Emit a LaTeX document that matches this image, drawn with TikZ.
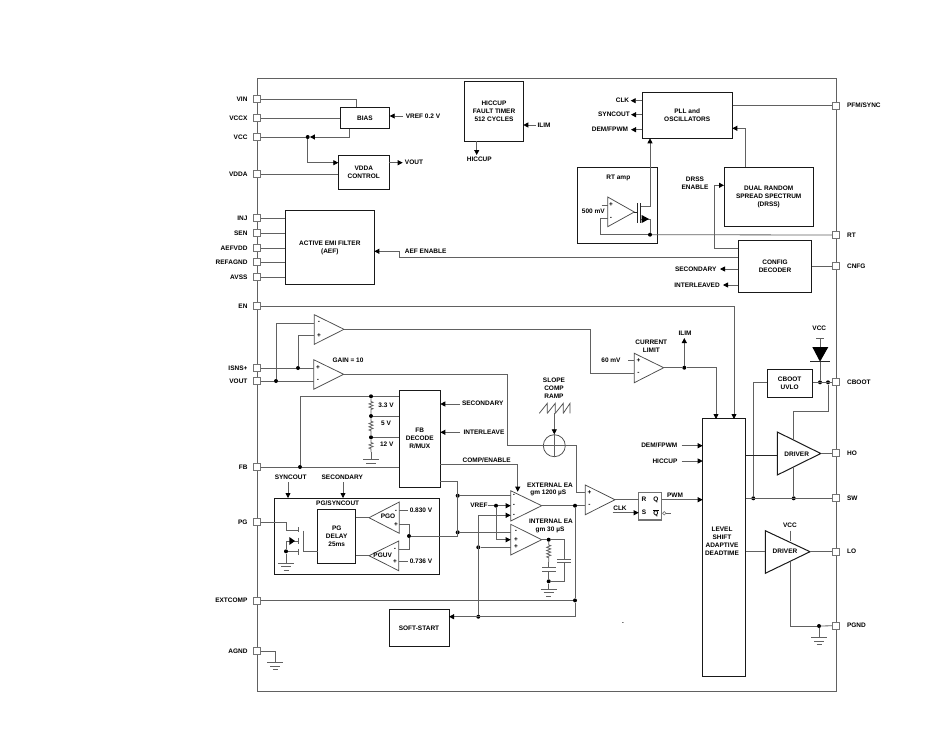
\documentclass[tikz,border=0pt]{standalone}
\usepackage{fontspec}
\setmainfont{Liberation Sans}
\usetikzlibrary{arrows.meta,calc,decorations.pathmorphing,positioning,shapes.geometric}

\tikzset{
  wire/.style={draw=black!62,line width=0.8pt},
  blk/.style={draw=black!85,line width=0.7pt},
  sig/.style={wire,-{Triangle[length=5pt,width=5pt,color=black]}},
  box/.style={draw=black!90,line width=1pt,fill=white,inner sep=0pt,align=center},
  pinbox/.style={draw=black!55,line width=0.7pt,fill=white,minimum size=7pt,inner sep=0pt},
  dot/.style={circle,fill=black,inner sep=0pt,minimum size=4pt},
  lab/.style={inner sep=0pt,align=center},
  res/.style={wire,decorate,decoration={zigzag,amplitude=2pt,segment length=3.2pt,pre length=3pt,post length=3pt}},
  amp/.style={draw=black!70,line width=0.75pt},
  gnd/.pic={\draw[wire] (-8,0) -- (8,0); \draw[wire] (-5,3.7) -- (5,3.7); \draw[wire] (-2.5,7.5) -- (2.5,7.5);}
}

\begin{document}
\begin{tikzpicture}[x=1pt,y=-1pt,every node/.style={font=\fontsize{6.5}{8}\selectfont\bfseries}]
    \useasboundingbox (0,0) rectangle (949,739);
    \fill[white] (0,0) rectangle (949,739);
    % Package outline
    \draw[wire] (257,78) rectangle (836,691);
    % Pins
    \foreach \nm/\py/\txt in {pinVIN/99/VIN,pinVCCX/118/VCCX,pinVCC/137/VCC,pinVDDA/174/VDDA,pinINJ/218/INJ,pinSEN/233/SEN,pinAEFVDD/248/AEFVDD,pinREFAGND/262/REFAGND,pinAVSS/277/AVSS,pinEN/306/EN,pinISNS/368/ISNS+,pinVOUT/381/VOUT,pinFB/467/FB,pinPG/522/PG,pinEXTCOMP/600.4/EXTCOMP,pinAGND/651/AGND}{
        \node[pinbox] (\nm) at (257,\py) {};
        \node[lab,left=5.5pt of \nm] (\nm-lab) {\txt};
    }
    \foreach \nm/\py/\txt in {pinPFM/105.7/{PFM/SYNC},pinRT/235/RT,pinCNFG/266.3/CNFG,pinCBOOT/382.3/CBOOT,pinHO/453.3/HO,pinSW/498.3/SW,pinLO/551.7/LO,pinPGND/625.7/PGND}{
        \node[pinbox] (\nm) at (836,\py) {};
        \node[lab,right=7pt of \nm] (\nm-lab) {\txt};
    }
    % Blocks
    \node[box,minimum width=49.4pt,minimum height=21.4pt] (bias) at (365,118) {BIAS};
    \node[box,minimum width=51pt,minimum height=34pt] (vdda) at (363.8,172) {VDDA\\CONTROL};
    \node[box,minimum width=58.6pt,minimum height=60.3pt] (hiccup) at (494,111.2) {HICCUP\\FAULT TIMER\\512 CYCLES};
    \node[box,minimum width=89pt,minimum height=74.4pt] (aef) at (329.8,247.5) {ACTIVE EMI FILTER\\(AEF)};
    \node[box,minimum width=90.3pt,minimum height=46.3pt] (pll) at (687.2,115.2) {PLL and\\OSCILLATORS};
    \node[box,minimum width=80pt,minimum height=75.6pt] (rtbox) at (617.7,205.5) {};
    \node[box,minimum width=89.3pt,minimum height=59pt] (drss) at (768.7,196.8) {DUAL RANDOM\\SPREAD SPECTRUM\\(DRSS)};
    \node[box,minimum width=73.4pt,minimum height=51.7pt] (config) at (775,266.2) {CONFIG\\DECODER};
    \node[box,minimum width=41pt,minimum height=97pt] (fbdec) at (419.8,438.8) {FB\\DECODE\\R/MUX};
    \node[box,minimum width=165.4pt,minimum height=76.3pt] (pgbox) at (357,536.2) {};
    \node[box,minimum width=38pt,minimum height=53.7pt] (pgdly) at (336.7,536.2) {PG\\DELAY\\25ms};
    \node[box,minimum width=60pt,minimum height=37.4pt] (soft) at (419,628) {SOFT-START};
    \node[box,minimum width=43pt,minimum height=257.7pt] (level) at (724.2,547.8) {};
    \node[box,minimum width=45.3pt,minimum height=27.7pt] (uvlo) at (789.7,383.2) {CBOOT\\UVLO};
    \node[box,draw=black!55,line width=1.2pt,minimum width=23pt,minimum height=27.3pt] (ff) at (650.2,506.3) {};
    \node[lab] (levelLab) at (722,541) {LEVEL\\SHIFT\\ADAPTIVE\\DEADTIME};
    % Junctions
    \foreach \nm/\cx/\cy in {jVcc/307.7/137,jRt/650/234.7,jCur/684.3/367.7,jIsns/298/368,jVout/276/381,jFb/300/467,jR1/371/396.3,jR2/371/416,jR3/371/437.3,jPg/409/536,jFb1/457.7/495.7,jFb2/457.7/532.3,jVref/496/505.7,jSs1/478.3/547.3,jSs2/478.3/616.7,jExt/575/505.7,jComp/575/600.4,jInt/548.7/539.7,jCap/548.7/581.3,jUvlo/753.3/498.3,jDrv/793.7/498.3,jBoot1/820/382.3,jBoot2/828/382.3,jPgnd/819/626,jFet/286/551.3}
        \node[dot] (\nm) at (\cx,\cy) {};
    % Free ends of connectors
    \foreach \nm/\cx/\cy in {vinDrop/356.7/107.3,biasOut/349.3/128.7,vddaIn/338.3/162.7,vddaOut/389.3/162.7,vddaEnd/402.7/162.7,vrefFrom/403/116,vrefIn/389.7/116,hicOut/476.7/141.3,hicEnd/476.7/155,ilimFrom/536/125,ilimIn/523.3/125,cfgAef/738.3/257,aefBend/399/257,aefIn/374.3/251.3,clkOut/642/100.7,clkEnd/630.7/100.7,synOut/642/114.7,synEnd/631/114.7,demOut/642/129.7,demEnd/631/129.7,pllIn/732.3/128.3,drssOut/745/167.3,rtUp/650/138.3,fetD/650/206.7,cfgDrss/738.3/248.3,drssBend/714.3/248.3,drssIn/724/185.3,cfgSec/738.3/269,secEnd/720/269,cfgInt/738.3/285,intEnd/723/285,fbTop/399.3/396.3,r3End/371/459.7,fbSecFrom/460/404,fbSecIn/440.3/404,fbIntFrom/460/432.3,fbIntIn/440.3/432.3,cmpM/314.3/323,cmpP/314.3/335.7,gainP/313.7/368,gainM/313.7/381,cmpBend/590/329.3,curM/634.3/373.3,curP0/628/360.7,curP/634.3/360.7,ilimUp/684.3/338,curBend/716/367.7,curIn/716/419,enIn/734/419,gainBend/507.7/445.7,sumBend/576.7/445.7,rampEnd/554.3/413.3,pwmP/585.3/492.7,pwmM/585.3/505.7,fbComp/440.3/464.3,compBend/517.7/464.3,compIn/517.7/491.7,fbOut2/440.3/481.7,fbBend/457.7/481.7,extI/510.7/495.7,intI/510.7/532.3,pgBend/457.7/536,vrefText/488/505.7,extM1/510.7/505.7,extM2/510.7/515.3,intP1/510.7/539.7,intP2/510.7/547.3,softIn/449/616.7,capBend/564/539.7,ffR/638.7/499.7,clkFrom/612.7/512.7,ffS/638.7/512.7,ffQ/661.7/499.7,lvlPwm/702.7/499.7,lvlDem/702.7/445.7,demFrom/681.7/445.7,lvlHic/702.7/461,hicFrom/681.7/461,bootTop/828/411,hoTop/793.7/411,hoEdgeA/793.7/440,hoEdgeB/793.7/467,lvlHo/745.7/455.3,hoIn/777.3/455.3,uvloW/767/382.3,uvloBend/753.3/382.3,gateTop/303.7/530.7,gateBot/303.7/551.7,gateEnd/317.7/551.7,pgBendA/286/530.7,pgDrain/298.7/530.7,fetBody/298.7/541,fetSrc/298.7/551.3,fetBend/286/541,fetGnd/286/563,pgoRef/399.3/510.3,pgoRefEnd/408.3/510.3,pguvRef/398.7/561.7,pguvRefEnd/408.3/561.7,pgoP/399.3/524,pgoBend/409/524,pguvM/398.7/549,pguvBend/409/549,rtRefA/601.7/205,rtRefB/607.7/205,rtMinus/607.7/218.3,rtBend/600/218.3,fetSrcA/640.7/219,fetSrcB/650/219,fetDrnA/640.7/206.7,rtGate/637.7/212,secFromA/288/482,secEndA/288/498,secFromB/343/482,secEndB/343/498,r3Low/371/452,rLow/548.7/562,capTopA/548.7/567.3,capBotA/548.7/571,gndInt/548.7/589,lvlLo/745.7/551.7,loIn/765.3/551.7,vccLoA/790/530.7,vccLoB/790/541,loBot/790.3/562,gndP/819/637.3,gndA/275.3/662.3,dioTop/820/338,dioIn/820/347,dioOut/820/361.7,bubR/670.7/513.3}
        \coordinate (\nm) at (\cx,\cy);
    % Amplifiers
    \draw[amp] (314.3,314.7) -- (314.3,344.3) -- (344,329.3) coordinate (cmpOut) -- cycle;
    \draw[amp] (313.7,359.7) -- (313.7,389.3) -- (343.7,374.3) coordinate (gainOut) -- cycle;
    \draw[amp] (634.3,353.3) -- (634.3,382.7) -- (663.7,367.7) coordinate (curOut) -- cycle;
    \draw[amp] (585.3,485) -- (585.3,514.7) -- (615,499.7) coordinate (pwmOut) -- cycle;
    \draw[amp] (510.7,490.7) -- (510.7,521) -- (541.7,505.7) coordinate (extOut) -- cycle;
    \draw[amp] (510.7,524.3) -- (510.7,555) -- (541.7,539.7) coordinate (intOut) -- cycle;
    \draw[amp] (399.3,502) -- (399.3,533.3) -- (369,517.7) coordinate (pgoOut) -- cycle;
    \draw[amp] (398.7,541) -- (398.7,570.7) -- (369,555.7) coordinate (pguvOut) -- cycle;
    \draw[amp] (607.7,197) -- (607.7,226.7) -- (634.3,212) coordinate (rtOut) -- cycle;
    % Drivers
    \draw[box] (777.3,432) -- (777.3,475) -- (820.7,453.5) coordinate (hoOut) -- cycle;
    \draw[box] (765.3,530.7) -- (765.3,573.3) -- (810,551.7) coordinate (loOut) -- cycle;
    % Top left connectors
    \draw[wire] (pinVIN) -| (vinDrop);
    \draw[wire] (pinVCCX) -- (pinVCCX -| bias.west);
    \draw[wire] (pinVCC) -- (jVcc);
    \draw[sig] (biasOut) |- (jVcc);
    \draw[sig] (jVcc) |- (vddaIn);
    \draw[wire] (pinVDDA) -- (pinVDDA -| vdda.west);
    \draw[sig] (vddaOut) -- (vddaEnd);
    \draw[sig] (vrefFrom) -- (vrefIn);
    \draw[sig] (hicOut) -- (hicEnd);
    \draw[sig] (ilimFrom) -- (ilimIn);
    \foreach \nm in {pinINJ,pinSEN,pinAEFVDD,pinREFAGND,pinAVSS}
        \draw[wire] (\nm) -- (\nm -| aef.west);
    \draw[sig] (cfgAef) -- (aefBend) |- (aefIn);
    % PLL, RT and config
    \draw[sig] (clkOut) -- (clkEnd);
    \draw[sig] (synOut) -- (synEnd);
    \draw[sig] (demOut) -- (demEnd);
    \draw[wire] (pll.east |- pinPFM) -- (pinPFM);
    \draw[sig] (drssOut) |- (pllIn);
    \draw[sig] (fetD) -- (rtUp);
    \draw[sig] (cfgDrss) -- (drssBend) |- (drssIn);
    \draw[wire] (config.east |- pinCNFG) -- (pinCNFG);
    \draw[sig] (cfgSec) -- (secEnd);
    \draw[sig] (cfgInt) -- (intEnd);
    % RT amp
    \draw[wire] (rtRefA) -- (rtRefB);
    \draw[wire] (rtMinus) -- (rtBend) |- (jRt);
    \draw[wire] (jRt) -- (pinRT);
    \draw[blk] (rtOut) -- (rtGate);
    \draw[blk] (637.7,203.3) -- (637.7,223.3);
    \draw[blk] (640.7,203.3) -- (640.7,223.3);
    \draw[wire] (fetDrnA) -- (fetD);
    \draw[wire] (fetSrcA) -- (fetSrcB) -- (jRt);
    \fill[black] (641.7,215) -- (649,219) -- (641.7,223) -- cycle;
    % Sense amplifiers
    \draw[sig] (pinEN) -| (enIn);
    \draw[wire] (pinISNS) -- (jIsns);
    \draw[wire] (jIsns) -- (gainP);
    \draw[wire] (jIsns) |- (cmpP);
    \draw[wire] (pinVOUT) -- (jVout);
    \draw[wire] (jVout) -- (gainM);
    \draw[wire] (jVout) |- (cmpM);
    \draw[wire] (cmpOut) -- (cmpBend) |- (curM);
    \draw[wire] (curP0) -- (curP);
    \draw[wire] (curOut) -- (jCur);
    \draw[sig] (jCur) -- (ilimUp);
    \draw[sig] (jCur) -- (curBend) -- (curIn);
    % Slope compensation
    \node[circle,draw=black!70,line width=0.75pt,minimum size=22pt,inner sep=0pt] (sum) at (554.3,445.7) {};
    \draw[wire] (gainOut) -| (gainBend) -- (sum.west);
    \draw[wire] (sum.west) -- (sum.east);
    \draw[wire] (sum.north) -- (sum.south);
    \foreach \i in {0,1,2}
        \draw[amp] (539.3+8*\i,413.3) -- (547.3+8*\i,403.3) -- (547.3+8*\i,413.3);
    \draw[amp] (563.3,413.3) -- (570,403.3) -- (570,413.3);
    \draw[sig] (rampEnd) -- (sum.north);
    \draw[wire] (sum.east) -- (sumBend) |- (pwmP);
    % FB divider and decode
    \draw[wire] (pinFB) -- (jFb);
    \draw[wire] (jFb) -- (jFb -| fbdec.west);
    \draw[wire] (jFb) |- (jR1);
    \draw[wire] (jR1) -- (fbTop);
    \draw[res] (jR1) -- (jR2);
    \draw[res] (jR2) -- (jR3);
    \draw[wire] (jR2) -- (jR2 -| fbdec.west);
    \draw[wire] (jR3) -- (jR3 -| fbdec.west);
    \draw[res] (jR3) -- (r3Low);
    \draw[wire] (r3Low) -- (r3End);
    \pic at (r3End) {gnd};
    \draw[sig] (fbSecFrom) -- (fbSecIn);
    \draw[sig] (fbIntFrom) -- (fbIntIn);
    \draw[sig] (fbComp) -- (compBend) -- (compIn);
    \draw[wire] (fbOut2) -- (fbBend) -- (pgBend) -- (jPg);
    \draw[wire] (jFb1) -- (extI);
    \draw[wire] (jFb2) -- (intI);
    % PG block
    \draw[sig] (secFromA) -- (secEndA);
    \draw[sig] (secFromB) -- (secEndB);
    \draw[wire] (pgoOut) -- (pgoOut -| pgdly.east);
    \draw[wire] (pguvOut) -- (pguvOut -| pgdly.east);
    \draw[wire] (pgoRef) -- (pgoRefEnd);
    \draw[wire] (pguvRef) -- (pguvRefEnd);
    \draw[wire] (pgoP) -- (pgoBend) -- (jPg);
    \draw[wire] (pguvM) -- (pguvBend) -- (jPg);
    \draw[wire] (pinPG) -| (pgBendA) -- (pgDrain);
    \draw[wire] (298.7,527) -- (298.7,532.3);
    \draw[wire] (298.7,537.7) -- (298.7,544);
    \draw[wire] (298.7,548.7) -- (298.7,555);
    \draw[wire] (gateTop) -- (gateBot) -- (gateEnd);
    \draw[wire] (fetBody) -- (fetBend) -- (jFet);
    \draw[wire] (jFet) -- (fetSrc);
    \draw[wire] (jFet) -- (fetGnd);
    \fill[black] (289.3,537) -- (295,541) -- (289.3,545) -- cycle;
    \pic at (fetGnd) {gnd};
    % Error amplifiers
    \draw[wire] (vrefText) -- (jVref);
    \draw[sig] (jVref) -- (extM1);
    \draw[sig] (jVref) |- (intP1);
    \draw[sig] (jSs2) |- (extM2);
    \draw[wire] (jSs1) -- (intP2);
    \draw[wire] (extOut) -- (jExt);
    \draw[wire] (jExt) -- (pwmM);
    \draw[wire] (jExt) -- (jComp);
    \draw[sig] (jComp) |- (softIn);
    \draw[wire] (pinEXTCOMP) -- (jComp);
    \draw[wire] (intOut) -- (jInt);
    \draw[wire] (jInt) -- (capBend) |- (jCap);
    \draw[res] (jInt) -- (rLow);
    \draw[wire] (rLow) -- (capTopA);
    \draw[wire] (542,567.3) -- (555.7,567.3);
    \draw[wire] (542,571) -- (555.7,571);
    \draw[wire] (capBotA) -- (jCap);
    \draw[wire] (jCap) -- (gndInt);
    \pic at (gndInt) {gnd};
    \fill[white] (560,559.7) rectangle (568,562.3);
    \draw[wire] (557.3,559.3) -- (570.7,559.3);
    \draw[wire] (557.3,562.7) -- (570.7,562.7);
    % PWM latch
    \draw[wire] (pwmOut) -- (ffR);
    \draw[sig] (clkFrom) -- (ffS);
    \draw[sig] (ffQ) -- (lvlPwm);
    \node[circle,draw=black!55,line width=0.6pt,inner sep=0pt,minimum size=3.4pt] (ffBubble) at (664.3,513.3) {};
    \draw[wire] (ffBubble) -- (bubR);
    \draw[sig] (demFrom) -- (lvlDem);
    \draw[sig] (hicFrom) -- (lvlHic);
    % Output stage
    \draw[wire] (uvlo.east |- pinCBOOT) -- (pinCBOOT);
    \draw[wire] (uvloW) -- (uvloBend) -- (jUvlo);
    \draw[wire] (level.east |- pinSW) -- (pinSW);
    \draw[wire] (jBoot2) -- (bootTop) -- (hoTop) -- (hoEdgeA);
    \draw[wire] (hoEdgeB) -- (jDrv);
    \draw[blk] (lvlHo) -- (hoIn);
    \draw[wire] (hoOut) -- (hoOut -| pinHO.west);
    \draw[wire] (lvlLo) -- (loIn);
    \draw[wire] (loOut) -- (pinLO);
    \draw[wire] (vccLoA) -- (vccLoB);
    \draw[wire] (loBot) |- (jPgnd);
    \draw[wire] (jPgnd) -- (pinPGND);
    \draw[wire] (jPgnd) -- (gndP);
    \pic at (gndP) {gnd};
    \draw[wire] (pinAGND) -| (gndA);
    \pic at (gndA) {gnd};
    % Boot diode
    \draw[wire] (dioTop) -- (dioIn);
    \draw[wire] (816,338) -- (824,338);
    \fill[black] (812.3,347) -- (828.3,347) -- (820,361.7) -- cycle;
    \draw[blk] (810,361.7) -- (830,361.7);
    \draw[wire] (dioOut) -- (jBoot1);
    % Labels
    \foreach \nm/\cx/\cy/\txt in {lVref/423/116/VREF 0.2 V,lVoutA/414/162.7/VOUT,lHicOut/479.3/159.7/HICCUP,lIlimA/544/125/ILIM,lAefEn/425.7/251.3/AEF ENABLE,lClk/622.5/100.7/CLK,lSyn/614/114.7/SYNCOUT,lDem/610/129.7/{DEM/FPWM},lRtAmp/618.3/178.3/RT amp,l500/593.3/211.3/500 mV,lDrss/695/179.3/DRSS,lDrssEn/695/187.3/ENABLE,lSec/695.7/269/SECONDARY,lInt/697/285/INTERLEAVED,lGain/348/360.7/GAIN = 10,lV33/386/405.7/3.3 V,lV5/386/423.7/5 V,lV12/386.7/444.7/12 V,lFbSec/482.7/403.3/SECONDARY,lFbInt/484/432.7/INTERLEAVE,lComp/486.7/460/{COMP/ENABLE},lSynPg/290.7/477.7/SYNCOUT,lSecPg/342.3/477.7/SECONDARY,lPgSyn/337.7/503.7/{PG/SYNCOUT},lPgo/388/516.7/PGO,lPguv/382.7/555.3/PGUV,l830/421/510.3/0.830 V,l736/421/561.7/0.736 V,lVrefE/479/505.7/VREF,lSl1/554/380.7/SLOPE,lSl2/554/388.7/COMP,lSl3/554/396.5/RAMP,lExt1/550/485.3/EXTERNAL EA,lExt2/548.3/493.3/gm 1200 µS,lInt1/551/521.7/INTERNAL EA,lInt2/550/530/gm 30 µS,lCur1/651.3/342.7/CURRENT,lCur2/651.3/350.7/LIMIT,l60/611/360.7/60 mV,lIlimB/685/333/ILIM,lDemL/659.3/445.7/{DEM/FPWM},lHicL/665/461/HICCUP,lPwm/675/495.3/PWM,lClkF/620/508.7/CLK,lR/644/499.7/R,lQ/656/499.7/Q,lS/644/512.7/S,lVccB/819.3/328.3/VCC,lDrvH/796.7/454.3/DRIVER,lDrvL/785/551.5/DRIVER,lVccL/790/525.7/VCC,lDot/623/623/.}
        \node[lab] (\nm) at (\cx,\cy) {\txt};
    \node[lab] (lQbar) at (656,513.3) {$\overline{\mbox{\fontsize{6.5}{8}\selectfont\bfseries Q}}$};
    % Amplifier inputs
    \foreach \nm/\cx/\cy/\txt in {sA/319/322.5/-,sB/319/335.5/+,sC/318/367.5/+,sD/318/380.5/-,sE/638.5/360.5/+,sF/638.5/373/-,sG/589.5/492.5/+,sH/589.5/505.5/-,sI/514/495/-,sJ/514/505.5/-,sK/514/515/-,sL/516/531/-,sM/516/540/+,sN/516/547/+,sO/396/511/-,sP/396/525/+,sQ/395/549/-,sR/395/561.7/+,sT/611/205/+,sU/611/218.5/-}
        \node[lab] (\nm) at (\cx,\cy) {\txt};
\end{tikzpicture}
\end{document}
